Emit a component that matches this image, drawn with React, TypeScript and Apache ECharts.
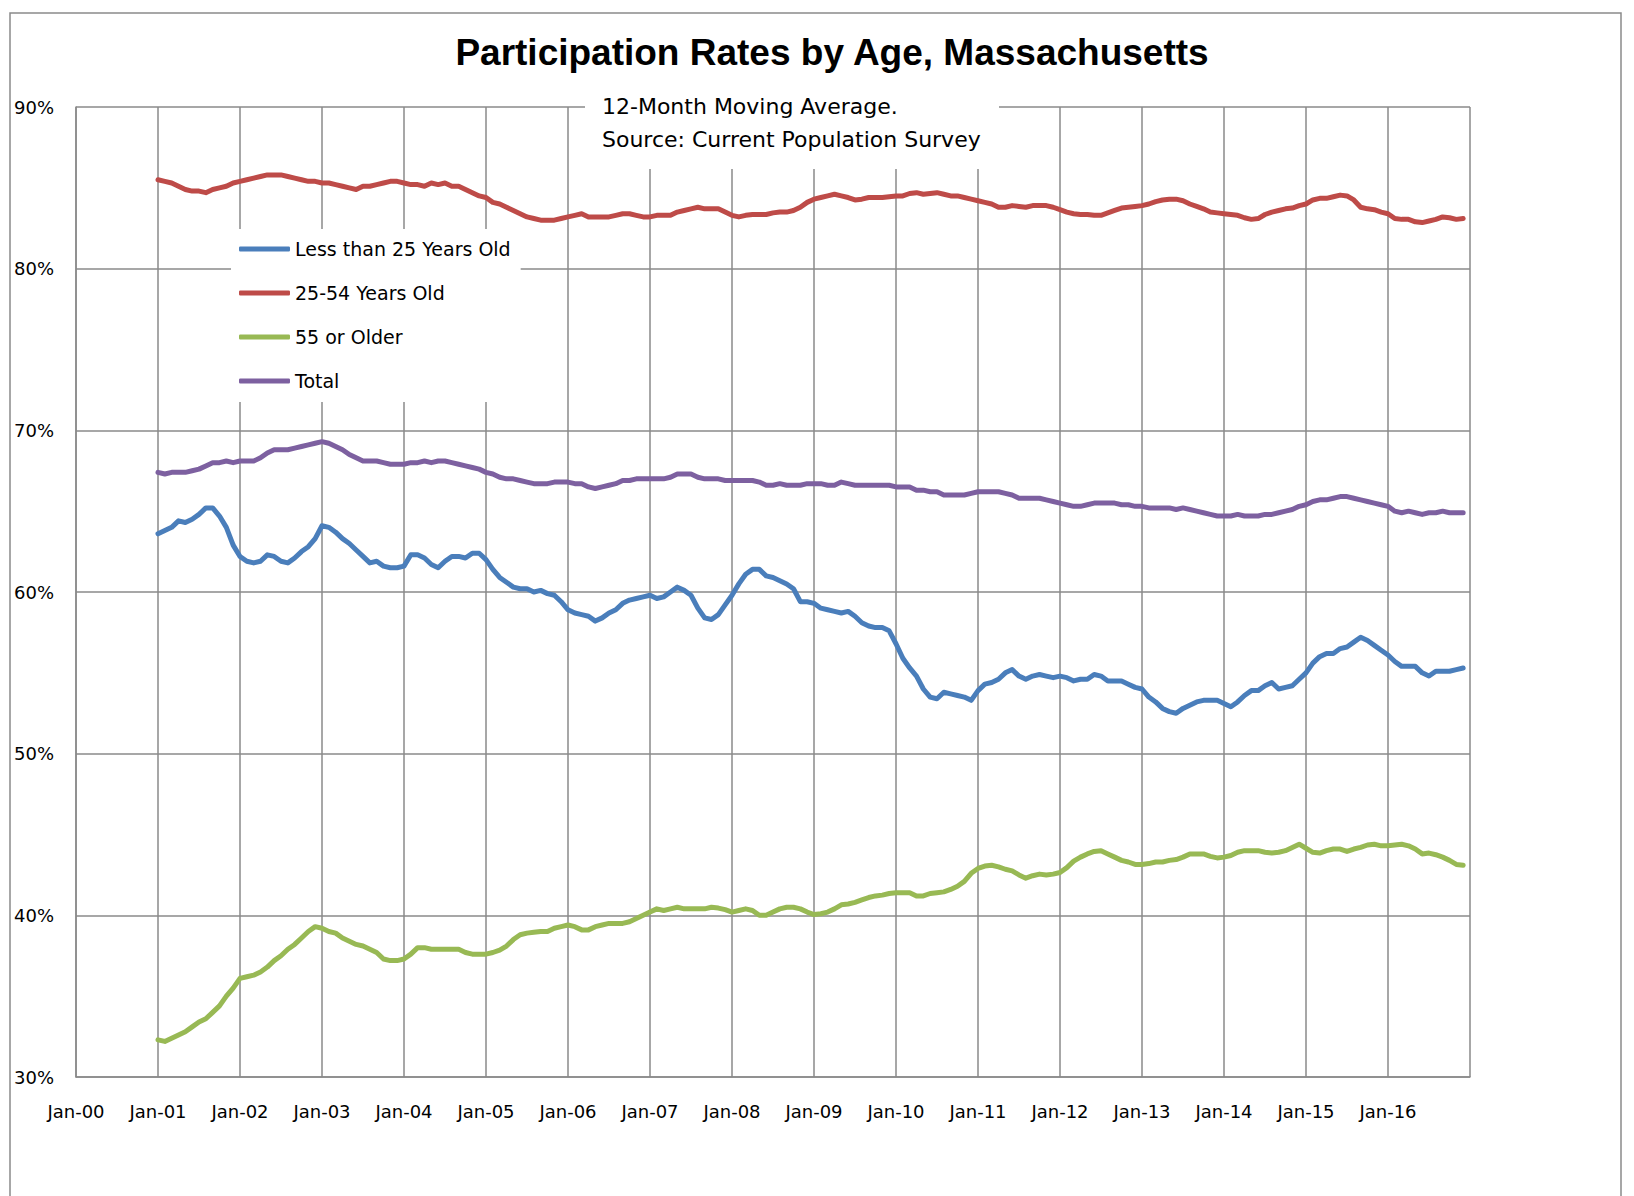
import React, { useEffect, useRef } from "react";
import * as echarts from "echarts";

// Month index 0 = Jan-00; data starts Jan-01 (index 12), monthly through Dec-16
const START_INDEX = 12;

const seriesNames = ["Less than 25 Years Old", "25-54 Years Old", "55 or Older", "Total"];
const seriesColors = ["#4A7EBB", "#BE4B48", "#98B954", "#7D60A0"];

const under25 = [
  63.6, 63.8, 64.0, 64.4, 64.3, 64.5, 64.8, 65.2, 65.2, 64.7, 64.0, 62.9,
  62.2, 61.9, 61.8, 61.9, 62.3, 62.2, 61.9, 61.8, 62.1, 62.5, 62.8, 63.3,
  64.1, 64.0, 63.7, 63.3, 63.0, 62.6, 62.2, 61.8, 61.9, 61.6, 61.5, 61.5,
  61.6, 62.3, 62.3, 62.1, 61.7, 61.5, 61.9, 62.2, 62.2, 62.1, 62.4, 62.4,
  62.0, 61.4, 60.9, 60.6, 60.3, 60.2, 60.2, 60.0, 60.1, 59.9, 59.8, 59.4,
  58.9, 58.7, 58.6, 58.5, 58.2, 58.4, 58.7, 58.9, 59.3, 59.5, 59.6, 59.7,
  59.8, 59.6, 59.7, 60.0, 60.3, 60.1, 59.8, 59.0, 58.4, 58.3, 58.6, 59.2,
  59.8, 60.5, 61.1, 61.4, 61.4, 61.0, 60.9, 60.7, 60.5, 60.2, 59.4, 59.4,
  59.3, 59.0, 58.9, 58.8, 58.7, 58.8, 58.5, 58.1, 57.9, 57.8, 57.8, 57.6,
  56.8, 55.9, 55.3, 54.8, 54.0, 53.5, 53.4, 53.8, 53.7, 53.6, 53.5, 53.3,
  53.9, 54.3, 54.4, 54.6, 55.0, 55.2, 54.8, 54.6, 54.8, 54.9, 54.8, 54.7,
  54.8, 54.7, 54.5, 54.6, 54.6, 54.9, 54.8, 54.5, 54.5, 54.5, 54.3, 54.1,
  54.0, 53.5, 53.2, 52.8, 52.6, 52.5, 52.8, 53.0, 53.2, 53.3, 53.3, 53.3,
  53.1, 52.9, 53.2, 53.6, 53.9, 53.9, 54.2, 54.4, 54.0, 54.1, 54.2, 54.6,
  55.0, 55.6, 56.0, 56.2, 56.2, 56.5, 56.6, 56.9, 57.2, 57.0, 56.7, 56.4,
  56.1, 55.7, 55.4, 55.4, 55.4, 55.0, 54.8, 55.1, 55.1, 55.1, 55.2, 55.3,
];

const age25to54 = [
  85.5, 85.4, 85.3, 85.1, 84.9, 84.8, 84.8, 84.7, 84.9, 85.0, 85.1, 85.3,
  85.4, 85.5, 85.6, 85.7, 85.8, 85.8, 85.8, 85.7, 85.6, 85.5, 85.4, 85.4,
  85.3, 85.3, 85.2, 85.1, 85.0, 84.9, 85.1, 85.1, 85.2, 85.3, 85.4, 85.4,
  85.3, 85.2, 85.2, 85.1, 85.3, 85.2, 85.3, 85.1, 85.1, 84.9, 84.7, 84.5,
  84.4, 84.1, 84.0, 83.8, 83.6, 83.4, 83.2, 83.1, 83.0, 83.0, 83.0, 83.1,
  83.2, 83.3, 83.4, 83.2, 83.2, 83.2, 83.2, 83.3, 83.4, 83.4, 83.3, 83.2,
  83.2, 83.3, 83.3, 83.3, 83.5, 83.6, 83.7, 83.8, 83.7, 83.7, 83.7, 83.5,
  83.3, 83.2, 83.3, 83.35, 83.35, 83.35, 83.45, 83.5, 83.5, 83.6, 83.8, 84.1,
  84.3, 84.4, 84.5, 84.6, 84.5, 84.4, 84.25, 84.3, 84.4, 84.4, 84.4, 84.45,
  84.5, 84.5, 84.65, 84.7, 84.6, 84.65, 84.7, 84.6, 84.5, 84.5, 84.4, 84.3,
  84.2, 84.1, 84.0, 83.8, 83.8, 83.9, 83.85, 83.8, 83.9, 83.9, 83.9, 83.8,
  83.65, 83.5, 83.4, 83.35, 83.35, 83.3, 83.3, 83.45, 83.6, 83.75, 83.8, 83.85,
  83.9, 84.0, 84.15, 84.25, 84.3, 84.3, 84.2, 84.0, 83.85, 83.7, 83.5, 83.45,
  83.4, 83.35, 83.3, 83.15, 83.05, 83.1, 83.35, 83.5, 83.6, 83.7, 83.75, 83.9,
  84.0, 84.25, 84.35, 84.35, 84.45, 84.55, 84.5, 84.25, 83.8, 83.7, 83.65, 83.5,
  83.4, 83.1, 83.05, 83.05, 82.9, 82.85, 82.95, 83.05, 83.2, 83.15, 83.05, 83.1,
];

const age55plus = [
  32.3, 32.2, 32.4, 32.6, 32.8, 33.1, 33.4, 33.6, 34.0, 34.4, 35.0, 35.5,
  36.1, 36.2, 36.3, 36.5, 36.8, 37.2, 37.5, 37.9, 38.2, 38.6, 39.0, 39.3,
  39.2, 39.0, 38.9, 38.6, 38.4, 38.2, 38.1, 37.9, 37.7, 37.3, 37.2, 37.2,
  37.3, 37.6, 38.0, 38.0, 37.9, 37.9, 37.9, 37.9, 37.9, 37.7, 37.6, 37.6,
  37.6, 37.7, 37.85, 38.1, 38.5, 38.8, 38.9, 38.95, 39.0, 39.0, 39.2, 39.3,
  39.4, 39.3, 39.1, 39.1, 39.3, 39.4, 39.5, 39.5, 39.5, 39.6, 39.8, 40.0,
  40.2, 40.4, 40.3, 40.4, 40.5, 40.4, 40.4, 40.4, 40.4, 40.5, 40.45, 40.35,
  40.2, 40.3, 40.4, 40.3, 40.0, 40.0, 40.2, 40.4, 40.5, 40.5, 40.4, 40.2,
  40.05, 40.1, 40.2, 40.4, 40.65, 40.7, 40.8, 40.95, 41.1, 41.2, 41.25, 41.35,
  41.4, 41.4, 41.4, 41.2, 41.2, 41.35, 41.4, 41.45, 41.6, 41.8, 42.1, 42.6,
  42.9, 43.05, 43.1, 43.0, 42.85, 42.75, 42.5, 42.3, 42.45, 42.55, 42.5, 42.55,
  42.65, 42.95, 43.35, 43.6, 43.8, 43.95, 44.0, 43.8, 43.6, 43.4, 43.3, 43.15,
  43.15, 43.2, 43.3, 43.3, 43.4, 43.45, 43.6, 43.8, 43.8, 43.8, 43.65, 43.55,
  43.6, 43.7, 43.9, 44.0, 44.0, 44.0, 43.9, 43.85, 43.9, 44.0, 44.2, 44.4,
  44.15, 43.9, 43.85, 44.0, 44.1, 44.1, 43.95, 44.1, 44.2, 44.35, 44.4, 44.3,
  44.3, 44.35, 44.4, 44.3, 44.1, 43.8, 43.85, 43.75, 43.6, 43.4, 43.15, 43.1,
];

const total = [
  67.4, 67.3, 67.4, 67.4, 67.4, 67.5, 67.6, 67.8, 68.0, 68.0, 68.1, 68.0,
  68.1, 68.1, 68.1, 68.3, 68.6, 68.8, 68.8, 68.8, 68.9, 69.0, 69.1, 69.2,
  69.3, 69.2, 69.0, 68.8, 68.5, 68.3, 68.1, 68.1, 68.1, 68.0, 67.9, 67.9,
  67.9, 68.0, 68.0, 68.1, 68.0, 68.1, 68.1, 68.0, 67.9, 67.8, 67.7, 67.6,
  67.4, 67.3, 67.1, 67.0, 67.0, 66.9, 66.8, 66.7, 66.7, 66.7, 66.8, 66.8,
  66.8, 66.7, 66.7, 66.5, 66.4, 66.5, 66.6, 66.7, 66.9, 66.9, 67.0, 67.0,
  67.0, 67.0, 67.0, 67.1, 67.3, 67.3, 67.3, 67.1, 67.0, 67.0, 67.0, 66.9,
  66.9, 66.9, 66.9, 66.9, 66.8, 66.6, 66.6, 66.7, 66.6, 66.6, 66.6, 66.7,
  66.7, 66.7, 66.6, 66.6, 66.8, 66.7, 66.6, 66.6, 66.6, 66.6, 66.6, 66.6,
  66.5, 66.5, 66.5, 66.3, 66.3, 66.2, 66.2, 66.0, 66.0, 66.0, 66.0, 66.1,
  66.2, 66.2, 66.2, 66.2, 66.1, 66.0, 65.8, 65.8, 65.8, 65.8, 65.7, 65.6,
  65.5, 65.4, 65.3, 65.3, 65.4, 65.5, 65.5, 65.5, 65.5, 65.4, 65.4, 65.3,
  65.3, 65.2, 65.2, 65.2, 65.2, 65.1, 65.2, 65.1, 65.0, 64.9, 64.8, 64.7,
  64.7, 64.7, 64.8, 64.7, 64.7, 64.7, 64.8, 64.8, 64.9, 65.0, 65.1, 65.3,
  65.4, 65.6, 65.7, 65.7, 65.8, 65.9, 65.9, 65.8, 65.7, 65.6, 65.5, 65.4,
  65.3, 65.0, 64.9, 65.0, 64.9, 64.8, 64.9, 64.9, 65.0, 64.9, 64.9, 64.9,
];

const seriesValues = [under25, age25to54, age55plus, total];

const titleText = "Participation Rates by Age, Massachusetts";
const noteLines = ["12-Month Moving Average.", "Source: Current Population Survey"];

const X_MIN = 0;
const X_MAX = 204;
const Y_MIN = 30;
const Y_MAX = 90;

const FONT = "'DejaVu Sans', sans-serif";
const GRID_COLOR = "#8a8a8a";

export default function App() {
  const ref = useRef<HTMLDivElement>(null);

  useEffect(() => {
    if (!ref.current) return;
    const chart = echarts.init(ref.current, undefined, { renderer: "svg" });

    const series = seriesNames.map((name, si) => ({
      name,
      type: "line",
      data: seriesValues[si].map((v, i) => [START_INDEX + i, v]),
      showSymbol: false,
      symbol: "none",
      lineStyle: { width: 5, color: seriesColors[si], cap: "round", join: "round" },
      itemStyle: { color: seriesColors[si] },
      z: 3,
    }));

    chart.setOption({
      animation: false,
      backgroundColor: "#ffffff",
      title: {
        text: titleText,
        left: 832,
        top: 31,
        textAlign: "center",
        padding: 0,
        textStyle: {
          fontFamily: "'Liberation Sans', Arial, sans-serif",
          fontWeight: "bold",
          fontSize: 37,
          lineHeight: 42,
          color: "#000",
        },
      },
      grid: { left: 76, top: 107, width: 1394, height: 970, containLabel: false },
      legend: {
        orient: "vertical",
        left: 231,
        top: 229,
        padding: [10, 10, 11, 8],
        itemGap: 24,
        itemWidth: 51,
        itemHeight: 5,
        icon: "roundRect",
        backgroundColor: "#ffffff",
        data: seriesNames,
        textStyle: { fontFamily: FONT, fontSize: 19, lineHeight: 20, color: "#000" },
        selectedMode: false,
      },
      xAxis: {
        type: "value",
        min: X_MIN,
        max: X_MAX,
        interval: 12,
        axisLine: { show: true, lineStyle: { color: GRID_COLOR, width: 1.5 } },
        axisTick: { show: false },
        splitLine: { show: true, lineStyle: { color: GRID_COLOR, width: 1.5 } },
        axisLabel: {
          margin: 25,
          fontFamily: FONT,
          fontSize: 18,
          color: "#000",
          showMaxLabel: false,
          formatter: (v: number) =>
            v >= X_MAX ? "" : "Jan-" + String(Math.round(v / 12)).padStart(2, "0"),
        },
      },
      yAxis: {
        type: "value",
        min: Y_MIN,
        max: Y_MAX,
        interval: 10,
        axisLine: { show: true, lineStyle: { color: GRID_COLOR, width: 1.5 } },
        axisTick: { show: false },
        splitLine: { show: true, lineStyle: { color: GRID_COLOR, width: 1.5 } },
        axisLabel: {
          margin: 22,
          fontFamily: FONT,
          fontSize: 18,
          color: "#000",
          formatter: (v: number) => v + "%",
        },
      },
      graphic: [
        {
          type: "rect",
          shape: { x: 10, y: 13, width: 1611, height: 1200 },
          style: { fill: "none", stroke: "#8a8a8a", lineWidth: 1.5 },
          silent: true,
          z: 0,
        },
        {
          type: "rect",
          shape: { x: 585, y: 88, width: 414, height: 81 },
          style: { fill: "#ffffff" },
          silent: true,
          z: 50,
        },
        ...noteLines.map((t, i) => ({
          type: "text",
          x: 602,
          y: 106 + i * 33,
          style: {
            text: t,
            fontFamily: FONT,
            fontSize: 22,
            fill: "#000",
            verticalAlign: "middle",
            align: "left",
          },
          silent: true,
          z: 51,
        })),
      ],
      series,
    });

    return () => chart.dispose();
  }, []);

  return (
    <div
      ref={ref}
      style={{ position: "absolute", left: 0, top: 0, width: 1634, height: 1196, background: "#fff" }}
    />
  );
}
